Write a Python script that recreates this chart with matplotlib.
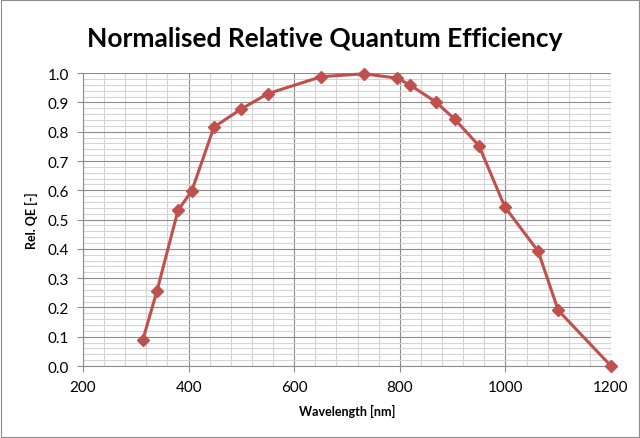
import numpy as np
from matplotlib import pyplot as plt
from matplotlib.ticker import MultipleLocator
from matplotlib.patches import Rectangle

plt.rcParams['font.family'] = ['Lato', 'DejaVu Sans']

# data
wavelength = [313, 340, 380, 406, 448, 499, 550, 651, 732, 795, 819, 868, 904, 950, 999, 1062, 1100, 1200]
rel_qe = [0.088, 0.256, 0.532, 0.598, 0.816, 0.877, 0.930, 0.988, 0.998, 0.983, 0.960, 0.902, 0.843, 0.752, 0.543, 0.392, 0.190, 0.0]

red = '#C0504D'

fig = plt.figure(figsize=(6.4, 4.39), dpi=100)
ax = fig.add_axes([0.1297, 0.164, 0.825, 0.667])

ax.plot(wavelength, rel_qe, color=red, linewidth=2.2, marker='D', markersize=6.5,
        markeredgecolor=red, markerfacecolor=red, zorder=3, clip_on=False)

ax.set_xlim(200, 1200)
ax.set_ylim(0, 1.0)
ax.xaxis.set_major_locator(MultipleLocator(200))
ax.xaxis.set_minor_locator(MultipleLocator(40))
ax.yaxis.set_major_locator(MultipleLocator(0.1))
ax.yaxis.set_minor_locator(MultipleLocator(0.02))
ax.yaxis.set_major_formatter(plt.FuncFormatter(lambda v, p: f'{v:.1f}'))

ax.grid(which='major', color='#8c8c8c', linewidth=0.8)
ax.grid(which='minor', color='#d4d4d4', linewidth=0.8)
ax.set_axisbelow(True)

for s in ['top', 'right']:
    ax.spines[s].set_visible(False)
for s in ['left', 'bottom']:
    ax.spines[s].set_color('#8c8c8c')
    ax.spines[s].set_linewidth(0.8)

ax.tick_params(which='major', direction='out', length=4, color='#8c8c8c', labelsize=11, pad=6)
ax.tick_params(which='minor', length=0)

ax.set_xlabel('Wavelength [nm]', fontsize=9, fontweight='bold', labelpad=7)
ax.set_ylabel('Rel. QE [-]', fontsize=9, fontweight='bold', labelpad=7)

fig.text(0.508, 0.912, 'Normalised Relative Quantum Efficiency', ha='center', va='center',
         fontsize=19, fontweight='bold')

fig.patches.append(Rectangle((0.002, 0.002), 0.996, 0.996, transform=fig.transFigure,
                             fill=False, edgecolor='#8c8c8c', linewidth=0.8))

plt.savefig('out.png', dpi=100)
